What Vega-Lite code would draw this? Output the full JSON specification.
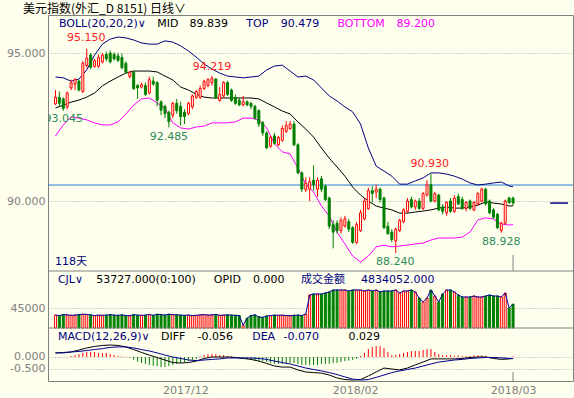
{
"$schema":"https://vega.github.io/schema/vega-lite/v6.json",
"autosize":"none",
"width":525,"height":366,
"padding":{"left":48,"top":15,"right":1,"bottom":17},
"background":"#FFFFEE",
"config":{"view":{"stroke":"#808080","fill":"#FFFFEE"},"axis":{"labelFont":"DejaVu Sans","labelFontSize":11,"labelColor":"#808080","gridColor":"#A8A8A8","gridDash":[1,2],"gridWidth":1}},
"title":{"text":"美元指数(外汇_D 8151)    日线∨","anchor":"start","frame":"group","dx":-25,"dy":3,"offset":2,"font":"Noto Sans CJK SC","fontSize":12,"fontWeight":"normal","color":"#000000"},
"resolve":{"scale":{"y":"independent"},"axis":{"y":"independent"}},
"datasets":{
"bars":[
{"i":0,"o":93.28,"h":93.75,"l":93.24,"c":93.51,"v":29000,"k":-0.01},
{"i":1,"o":93.5,"h":93.7,"l":93.2,"c":93.3,"v":28000,"k":-0.01},
{"i":2,"o":93.45,"h":93.5,"l":93.045,"c":93.13,"v":30000,"k":0.0},
{"i":3,"o":93.18,"h":93.7,"l":93.1,"c":93.65,"v":29500,"k":0.01},
{"i":4,"o":93.82,"h":94.1,"l":93.75,"c":93.99,"v":28500,"k":0.04},
{"i":5,"o":93.95,"h":94.15,"l":93.75,"c":94.1,"v":29000,"k":0.08},
{"i":6,"o":94.05,"h":94.1,"l":93.7,"c":93.75,"v":30000,"k":0.12},
{"i":7,"o":93.7,"h":94.72,"l":93.65,"c":94.66,"v":31000,"k":0.17},
{"i":8,"o":94.58,"h":95.15,"l":94.5,"c":94.83,"v":30500,"k":0.21},
{"i":9,"o":94.93,"h":95.0,"l":94.45,"c":94.52,"v":29500,"k":0.21},
{"i":10,"o":94.55,"h":94.8,"l":94.5,"c":94.74,"v":28000,"k":0.21},
{"i":11,"o":94.55,"h":94.95,"l":94.5,"c":94.85,"v":29000,"k":0.17},
{"i":12,"o":94.7,"h":95.0,"l":94.65,"c":94.93,"v":28500,"k":0.17},
{"i":13,"o":94.95,"h":95.05,"l":94.72,"c":94.8,"v":29000,"k":0.17},
{"i":14,"o":95.0,"h":95.08,"l":94.65,"c":94.7,"v":30000,"k":0.12},
{"i":15,"o":94.95,"h":95.02,"l":94.75,"c":94.8,"v":29000,"k":0.08},
{"i":16,"o":94.9,"h":95.0,"l":94.7,"c":94.75,"v":28500,"k":0.04},
{"i":17,"o":94.85,"h":94.98,"l":94.45,"c":94.5,"v":29500,"k":0.03},
{"i":18,"o":94.65,"h":94.72,"l":94.3,"c":94.35,"v":28000,"k":0.01},
{"i":19,"o":94.2,"h":94.4,"l":94.15,"c":94.35,"v":27500,"k":-0.03},
{"i":20,"o":94.35,"h":94.4,"l":93.75,"c":93.8,"v":30000,"k":-0.12},
{"i":21,"o":93.9,"h":93.95,"l":93.45,"c":93.82,"v":29000,"k":-0.2},
{"i":22,"o":93.85,"h":94.0,"l":93.8,"c":93.93,"v":28500,"k":-0.25},
{"i":23,"o":93.9,"h":94.0,"l":93.55,"c":93.6,"v":29000,"k":-0.29},
{"i":24,"o":93.65,"h":94.2,"l":93.6,"c":94.1,"v":30500,"k":-0.33},
{"i":25,"o":94.05,"h":94.2,"l":93.9,"c":93.95,"v":28500,"k":-0.37},
{"i":26,"o":94.0,"h":94.05,"l":93.2,"c":93.4,"v":31000,"k":-0.38},
{"i":27,"o":93.35,"h":93.4,"l":92.9,"c":93.07,"v":30000,"k":-0.42},
{"i":28,"o":93.2,"h":93.25,"l":92.8,"c":92.95,"v":29000,"k":-0.42},
{"i":29,"o":93.0,"h":93.05,"l":92.485,"c":92.68,"v":31000,"k":-0.38},
{"i":30,"o":92.9,"h":93.35,"l":92.8,"c":93.3,"v":30000,"k":-0.33},
{"i":31,"o":93.3,"h":93.45,"l":92.95,"c":93.05,"v":29500,"k":-0.29},
{"i":32,"o":93.2,"h":93.35,"l":92.55,"c":92.85,"v":29000,"k":-0.25},
{"i":33,"o":93.0,"h":93.1,"l":92.6,"c":92.85,"v":28500,"k":-0.21},
{"i":34,"o":92.95,"h":93.35,"l":92.9,"c":93.3,"v":29000,"k":-0.17},
{"i":35,"o":93.18,"h":93.6,"l":93.1,"c":93.55,"v":28000,"k":-0.12},
{"i":36,"o":93.5,"h":93.75,"l":93.45,"c":93.7,"v":28500,"k":-0.08},
{"i":37,"o":93.5,"h":93.9,"l":93.45,"c":93.8,"v":29500,"k":0.03},
{"i":38,"o":93.8,"h":94.1,"l":93.75,"c":94.05,"v":30000,"k":0.08},
{"i":39,"o":93.9,"h":94.15,"l":93.85,"c":94.1,"v":29000,"k":0.12},
{"i":40,"o":94.0,"h":94.219,"l":93.9,"c":94.15,"v":29500,"k":0.12},
{"i":41,"o":94.12,"h":94.15,"l":93.45,"c":93.5,"v":30500,"k":0.12},
{"i":42,"o":93.4,"h":93.85,"l":93.35,"c":93.6,"v":28500,"k":0.08},
{"i":43,"o":93.55,"h":94.05,"l":93.5,"c":94.0,"v":29000,"k":0.08},
{"i":44,"o":94.0,"h":94.05,"l":93.55,"c":93.6,"v":29500,"k":0.04},
{"i":45,"o":93.75,"h":93.8,"l":93.35,"c":93.4,"v":29000,"k":0.03},
{"i":46,"o":93.5,"h":93.6,"l":93.25,"c":93.3,"v":28500,"k":0.01},
{"i":47,"o":93.4,"h":93.5,"l":93.2,"c":93.25,"v":28000,"k":-0.03},
{"i":48,"o":93.25,"h":93.55,"l":93.2,"c":93.35,"v":6000,"k":-0.04},
{"i":49,"o":93.35,"h":93.4,"l":93.2,"c":93.25,"v":22000,"k":-0.08},
{"i":50,"o":93.3,"h":93.35,"l":93.1,"c":93.2,"v":28000,"k":-0.12},
{"i":51,"o":93.2,"h":93.25,"l":92.75,"c":92.8,"v":29500,"k":-0.15},
{"i":52,"o":93.05,"h":93.1,"l":92.5,"c":92.6,"v":25000,"k":-0.17},
{"i":53,"o":92.65,"h":92.7,"l":92.2,"c":92.3,"v":24000,"k":-0.17},
{"i":54,"o":92.3,"h":92.35,"l":91.75,"c":91.8,"v":27000,"k":-0.21},
{"i":55,"o":91.85,"h":92.2,"l":91.8,"c":92.15,"v":28000,"k":-0.25},
{"i":56,"o":92.2,"h":92.3,"l":91.9,"c":91.95,"v":29000,"k":-0.29},
{"i":57,"o":91.9,"h":92.2,"l":91.85,"c":92.15,"v":28500,"k":-0.29},
{"i":58,"o":92.05,"h":92.55,"l":92.0,"c":92.45,"v":29000,"k":-0.29},
{"i":59,"o":92.35,"h":92.7,"l":92.3,"c":92.55,"v":28000,"k":-0.29},
{"i":60,"o":92.45,"h":92.7,"l":92.4,"c":92.6,"v":27500,"k":-0.25},
{"i":61,"o":92.6,"h":92.7,"l":91.85,"c":91.9,"v":28500,"k":-0.25},
{"i":62,"o":91.9,"h":91.95,"l":90.9,"c":90.95,"v":29000,"k":-0.29},
{"i":63,"o":90.95,"h":91.0,"l":90.3,"c":90.4,"v":28000,"k":-0.33},
{"i":64,"o":90.38,"h":90.8,"l":90.3,"c":90.6,"v":31500,"k":-0.33},
{"i":65,"o":90.4,"h":90.8,"l":90.0,"c":90.65,"v":74250,"k":-0.33},
{"i":66,"o":90.7,"h":91.2,"l":90.35,"c":90.55,"v":76500,"k":-0.33},
{"i":67,"o":90.4,"h":90.8,"l":90.15,"c":90.7,"v":76500,"k":-0.33},
{"i":68,"o":90.75,"h":90.85,"l":90.3,"c":90.4,"v":76500,"k":-0.29},
{"i":69,"o":90.5,"h":90.55,"l":90.0,"c":90.05,"v":78750,"k":-0.29},
{"i":70,"o":90.1,"h":90.15,"l":89.05,"c":89.15,"v":81000,"k":-0.29},
{"i":71,"o":89.2,"h":89.35,"l":88.4,"c":88.95,"v":85500,"k":-0.25},
{"i":72,"o":89.25,"h":89.35,"l":88.9,"c":89.0,"v":85500,"k":-0.25},
{"i":73,"o":89.0,"h":89.45,"l":88.9,"c":89.35,"v":85500,"k":-0.21},
{"i":74,"o":89.15,"h":89.5,"l":89.1,"c":89.4,"v":85500,"k":-0.17},
{"i":75,"o":89.3,"h":89.4,"l":88.95,"c":89.05,"v":83250,"k":-0.15},
{"i":76,"o":89.1,"h":89.15,"l":88.55,"c":88.6,"v":85500,"k":-0.12},
{"i":77,"o":88.6,"h":89.3,"l":88.55,"c":89.2,"v":85500,"k":-0.08},
{"i":78,"o":89.0,"h":89.7,"l":88.95,"c":89.6,"v":85500,"k":0.04},
{"i":79,"o":89.4,"h":90.1,"l":89.35,"c":90.0,"v":83250,"k":0.17},
{"i":80,"o":89.75,"h":90.45,"l":89.7,"c":90.35,"v":85500,"k":0.33},
{"i":81,"o":90.35,"h":90.5,"l":89.95,"c":90.25,"v":83250,"k":0.42},
{"i":82,"o":90.3,"h":90.55,"l":90.1,"c":90.4,"v":85500,"k":0.46},
{"i":83,"o":90.4,"h":90.45,"l":89.95,"c":90.05,"v":81000,"k":0.46},
{"i":84,"o":90.1,"h":90.15,"l":89.05,"c":89.1,"v":83250,"k":0.37},
{"i":85,"o":89.15,"h":89.3,"l":88.85,"c":88.9,"v":83250,"k":0.21},
{"i":86,"o":88.95,"h":89.05,"l":88.6,"c":88.7,"v":83250,"k":0.08},
{"i":87,"o":88.65,"h":89.1,"l":88.24,"c":89.05,"v":85500,"k":0.08},
{"i":88,"o":89.0,"h":89.4,"l":88.95,"c":89.35,"v":78750,"k":0.12},
{"i":89,"o":89.3,"h":89.75,"l":89.25,"c":89.7,"v":83250,"k":0.17},
{"i":90,"o":89.65,"h":90.1,"l":89.6,"c":90.0,"v":83250,"k":0.21},
{"i":91,"o":90.05,"h":90.15,"l":89.75,"c":89.8,"v":85500,"k":0.25},
{"i":92,"o":89.8,"h":90.05,"l":89.7,"c":90.0,"v":81000,"k":0.25},
{"i":93,"o":90.0,"h":90.1,"l":89.7,"c":89.75,"v":67500,"k":0.25},
{"i":94,"o":89.75,"h":90.3,"l":89.7,"c":90.25,"v":58500,"k":0.29},
{"i":95,"o":90.2,"h":90.7,"l":90.15,"c":90.55,"v":67500,"k":0.33},
{"i":96,"o":90.55,"h":90.93,"l":89.95,"c":90.0,"v":85500,"k":0.33},
{"i":97,"o":90.0,"h":90.3,"l":89.95,"c":90.25,"v":72000,"k":0.21},
{"i":98,"o":90.2,"h":90.25,"l":89.65,"c":89.7,"v":58500,"k":0.12},
{"i":99,"o":89.8,"h":89.9,"l":89.55,"c":89.65,"v":76500,"k":0.08},
{"i":100,"o":89.6,"h":90.0,"l":89.5,"c":89.95,"v":85500,"k":0.08},
{"i":101,"o":90.0,"h":90.1,"l":89.6,"c":89.65,"v":85500,"k":0.08},
{"i":102,"o":89.65,"h":90.2,"l":89.6,"c":90.1,"v":81000,"k":0.05},
{"i":103,"o":90.15,"h":90.25,"l":89.85,"c":89.9,"v":74250,"k":0.07},
{"i":104,"o":90.05,"h":90.15,"l":89.7,"c":89.75,"v":69750,"k":0.04},
{"i":105,"o":89.75,"h":90.0,"l":89.65,"c":89.95,"v":69750,"k":0.04},
{"i":106,"o":90.0,"h":90.05,"l":89.7,"c":89.75,"v":69750,"k":0.05},
{"i":107,"o":89.7,"h":90.0,"l":89.65,"c":89.95,"v":72000,"k":0.07},
{"i":108,"o":89.9,"h":90.3,"l":89.85,"c":90.25,"v":69750,"k":0.08},
{"i":109,"o":90.0,"h":90.45,"l":89.95,"c":90.4,"v":69750,"k":0.07},
{"i":110,"o":90.4,"h":90.45,"l":89.85,"c":89.9,"v":72000,"k":0.05},
{"i":111,"o":90.0,"h":90.05,"l":89.55,"c":89.6,"v":74250,"k":0.01},
{"i":112,"o":89.7,"h":89.75,"l":89.4,"c":89.45,"v":72000,"k":-0.03},
{"i":113,"o":89.55,"h":89.6,"l":89.05,"c":89.1,"v":72000,"k":-0.04},
{"i":114,"o":89.0,"h":89.3,"l":88.928,"c":89.25,"v":69750,"k":-0.04},
{"i":115,"o":89.25,"h":90.05,"l":89.2,"c":90.0,"v":78750,"k":-0.03},
{"i":116,"o":90.1,"h":90.15,"l":89.9,"c":89.95,"v":45000,"k":0.01},
{"i":117,"o":90.1,"h":90.15,"l":89.85,"c":89.93,"v":53727,"k":0.029}
],
"lines":[
{"i":0,"t":94.19,"m":93.14,"b":92.2,"d":0.17,"e":0.17},
{"i":2,"t":94.16,"m":93.24,"b":92.57,"d":0.17,"e":0.19},
{"i":4,"t":94.05,"m":93.34,"b":92.84,"d":0.21,"e":0.21},
{"i":6,"t":94.12,"m":93.41,"b":92.8,"d":0.29,"e":0.23},
{"i":8,"t":94.43,"m":93.51,"b":92.74,"d":0.375,"e":0.27},
{"i":10,"t":94.93,"m":93.65,"b":92.64,"d":0.44,"e":0.31},
{"i":12,"t":95.3,"m":93.89,"b":92.57,"d":0.48,"e":0.35},
{"i":14,"t":95.47,"m":94.05,"b":92.57,"d":0.5,"e":0.4},
{"i":16,"t":95.54,"m":94.19,"b":92.67,"d":0.48,"e":0.42},
{"i":18,"t":95.51,"m":94.32,"b":92.94,"d":0.42,"e":0.42},
{"i":20,"t":95.44,"m":94.39,"b":93.24,"d":0.31,"e":0.375},
{"i":22,"t":95.34,"m":94.39,"b":93.45,"d":0.19,"e":0.31},
{"i":24,"t":95.3,"m":94.39,"b":93.48,"d":0.08,"e":0.25},
{"i":26,"t":95.3,"m":94.36,"b":93.31,"d":-0.02,"e":0.17},
{"i":28,"t":95.41,"m":94.22,"b":93.14,"d":-0.125,"e":0.08},
{"i":30,"t":95.37,"m":94.09,"b":92.64,"d":-0.23,"e":0.0},
{"i":32,"t":95.24,"m":93.85,"b":92.47,"d":-0.25,"e":-0.06},
{"i":34,"t":95.07,"m":93.75,"b":92.43,"d":-0.23,"e":-0.125},
{"i":36,"t":94.86,"m":93.61,"b":92.5,"d":-0.17,"e":-0.15},
{"i":38,"t":94.63,"m":93.51,"b":92.53,"d":-0.06,"e":-0.125},
{"i":40,"t":94.46,"m":93.48,"b":92.64,"d":0.0,"e":-0.1},
{"i":42,"t":94.32,"m":93.48,"b":92.64,"d":0.0,"e":-0.08},
{"i":44,"t":94.22,"m":93.48,"b":92.64,"d":0.0,"e":-0.04},
{"i":46,"t":94.19,"m":93.48,"b":92.67,"d":-0.02,"e":-0.04},
{"i":48,"t":94.16,"m":93.48,"b":92.8,"d":-0.06,"e":-0.04},
{"i":50,"t":94.19,"m":93.48,"b":92.8,"d":-0.1,"e":-0.04},
{"i":52,"t":94.22,"m":93.45,"b":92.74,"d":-0.17,"e":-0.06},
{"i":54,"t":94.43,"m":93.31,"b":92.47,"d":-0.27,"e":-0.1},
{"i":56,"t":94.56,"m":93.18,"b":91.93,"d":-0.375,"e":-0.17},
{"i":58,"t":94.59,"m":93.04,"b":91.66,"d":-0.42,"e":-0.23},
{"i":60,"t":94.39,"m":92.94,"b":91.59,"d":-0.42,"e":-0.29},
{"i":62,"t":94.19,"m":92.67,"b":91.11,"d":-0.54,"e":-0.375},
{"i":64,"t":94.22,"m":92.43,"b":90.57,"d":-0.625,"e":-0.46},
{"i":66,"t":94.09,"m":92.16,"b":90.3,"d":-0.65,"e":-0.52},
{"i":68,"t":93.82,"m":91.79,"b":89.83,"d":-0.67,"e":-0.58},
{"i":70,"t":93.55,"m":91.45,"b":89.49,"d":-0.75,"e":-0.65},
{"i":72,"t":93.38,"m":91.15,"b":88.95,"d":-0.875,"e":-0.73},
{"i":74,"t":93.18,"m":90.84,"b":88.55,"d":-0.94,"e":-0.83},
{"i":76,"t":93.01,"m":90.47,"b":88.14,"d":-0.96,"e":-0.92},
{"i":78,"t":92.6,"m":90.2,"b":87.94,"d":-0.94,"e":-0.96},
{"i":80,"t":91.79,"m":90.0,"b":88.14,"d":-0.79,"e":-0.94},
{"i":82,"t":91.18,"m":89.83,"b":88.45,"d":-0.625,"e":-0.85},
{"i":84,"t":91.01,"m":89.76,"b":88.51,"d":-0.46,"e":-0.75},
{"i":86,"t":90.84,"m":89.7,"b":88.45,"d":-0.5,"e":-0.65},
{"i":88,"t":90.57,"m":89.59,"b":88.48,"d":-0.54,"e":-0.58},
{"i":90,"t":90.57,"m":89.59,"b":88.51,"d":-0.46,"e":-0.52},
{"i":92,"t":90.68,"m":89.63,"b":88.55,"d":-0.33,"e":-0.46},
{"i":94,"t":90.78,"m":89.66,"b":88.58,"d":-0.21,"e":-0.375},
{"i":96,"t":90.95,"m":89.7,"b":88.68,"d":-0.08,"e":-0.29},
{"i":98,"t":90.95,"m":89.76,"b":88.75,"d":-0.08,"e":-0.21},
{"i":100,"t":90.91,"m":89.8,"b":88.75,"d":-0.08,"e":-0.17},
{"i":102,"t":90.84,"m":89.76,"b":88.75,"d":-0.08,"e":-0.125},
{"i":104,"t":90.74,"m":89.76,"b":88.78,"d":-0.06,"e":-0.1},
{"i":106,"t":90.61,"m":89.8,"b":88.95,"d":-0.02,"e":-0.06},
{"i":108,"t":90.54,"m":89.86,"b":89.36,"d":0.0,"e":-0.04},
{"i":110,"t":90.57,"m":89.97,"b":89.43,"d":0.0,"e":-0.02},
{"i":112,"t":90.61,"m":89.93,"b":89.39,"d":-0.06,"e":-0.02},
{"i":114,"t":90.64,"m":89.9,"b":89.22,"d":-0.1,"e":-0.04},
{"i":116,"t":90.51,"m":89.83,"b":89.19,"d":-0.08,"e":-0.06},
{"i":117,"t":90.479,"m":89.839,"b":89.2,"d":-0.056,"e":-0.07}
]
},
"layer":[
{"data":{"values":[{"p":90.54}]},"mark":{"type":"rule","color":"#1E7FD8","strokeWidth":1},
 "encoding":{"y":{"field":"p","type":"quantitative","scale":{"domain":[83.919,96.284],"nice":false,"zero":false},
  "axis":{"orient":"left","values":[95,90],"format":".3f","title":null,"grid":true,"domain":false,"ticks":false,"labelPadding":3}}}},
{"data":{"name":"bars"},"mark":{"type":"bar","orient":"vertical","width":2,"strokeWidth":1},
 "encoding":{"x":{"field":"i","type":"quantitative","scale":{"domain":[-0.63,131.05],"nice":false,"zero":false},
   "axis":{"orient":"bottom","values":[33.2,76.6,117],"labelExpr":"datum.value < 50 ? '2017/12' : (datum.value < 100 ? '2018/02' : '2018/03')","title":null,"domain":false,"ticks":false,"grid":false,"labelPadding":3}},
  "y":{"field":"v","type":"quantitative","scale":{"domain":[-119250,704250],"nice":false,"zero":false},
   "axis":{"orient":"left","values":[45000],"format":"d","title":null,"grid":true,"domain":false,"ticks":false,"labelPadding":3}},
  "y2":{"datum":0},
  "fill":{"condition":{"test":"datum.c>=datum.o","value":"#FFFFEE"},"value":"#008000"},
  "stroke":{"condition":{"test":"datum.c>=datum.o","value":"#FF0000"},"value":"#008000"}}},
{"data":{"name":"bars"},"mark":{"type":"rule","strokeWidth":1},
 "encoding":{"x":{"field":"i","type":"quantitative"},
  "y":{"field":"k","type":"quantitative","scale":{"domain":[-1.0,14.2497],"nice":false,"zero":false},
   "axis":{"orient":"left","values":[0,-0.5],"labelExpr":"datum.value < 0 ? '-0.500' : '0.000'","title":null,"grid":true,"domain":false,"ticks":false,"labelPadding":3}},
  "y2":{"datum":0},
  "color":{"condition":{"test":"datum.k>=0","value":"#FF0000"},"value":"#008000"}}},
{"data":{"name":"lines"},"mark":{"type":"line","color":"#000080","strokeWidth":1},
 "encoding":{"x":{"field":"i","type":"quantitative"},
  "y":{"field":"t","type":"quantitative","scale":{"domain":[83.919,96.284],"nice":false,"zero":false},"axis":null}}},
{"data":{"name":"lines"},"mark":{"type":"line","color":"#000000","strokeWidth":1},
 "encoding":{"x":{"field":"i","type":"quantitative"},"y":{"field":"m","type":"quantitative","scale":{"domain":[83.919,96.284],"nice":false,"zero":false},"axis":null}}},
{"data":{"name":"lines"},"mark":{"type":"line","color":"#FF00FF","strokeWidth":1},
 "encoding":{"x":{"field":"i","type":"quantitative"},"y":{"field":"b","type":"quantitative","scale":{"domain":[83.919,96.284],"nice":false,"zero":false},"axis":null}}},
{"data":{"name":"bars"},"mark":{"type":"rule","strokeWidth":1},
 "encoding":{"x":{"field":"i","type":"quantitative"},"y":{"field":"l","type":"quantitative","scale":{"domain":[83.919,96.284],"nice":false,"zero":false},"axis":null},"y2":{"field":"h"},
  "color":{"condition":{"test":"datum.c>=datum.o","value":"#FF0000"},"value":"#008000"}}},
{"data":{"name":"bars"},"mark":{"type":"bar","orient":"vertical","width":2,"strokeWidth":1},
 "encoding":{"x":{"field":"i","type":"quantitative"},"y":{"field":"o","type":"quantitative","scale":{"domain":[83.919,96.284],"nice":false,"zero":false},"axis":null},"y2":{"field":"c"},
  "fill":{"condition":{"test":"datum.c>=datum.o","value":"#FFFFEE"},"value":"#008000"},
  "stroke":{"condition":{"test":"datum.c>=datum.o","value":"#FF0000"},"value":"#008000"}}},
{"data":{"values":[{"i":126.5,"i2":131.05,"p":89.93}]},"mark":{"type":"rule","color":"#000080","strokeWidth":1.5},
 "encoding":{"x":{"field":"i","type":"quantitative"},"x2":{"field":"i2"},"y":{"field":"p","type":"quantitative","scale":{"domain":[83.919,96.284],"nice":false,"zero":false},"axis":null}}},
{"data":{"values":[{"i":117,"p":87.635,"p2":88.18}]},"mark":{"type":"rule","color":"#808080","strokeWidth":1},
 "encoding":{"x":{"field":"i","type":"quantitative"},"y":{"field":"p","type":"quantitative","scale":{"domain":[83.919,96.284],"nice":false,"zero":false},"axis":null},"y2":{"field":"p2"}}},
{"data":{"values":[
 {"i":7.9,"p":95.51,"s":"95.150","k":"high"},
 {"i":40.0,"p":94.53,"s":"94.219","k":"high"},
 {"i":29.0,"p":92.16,"s":"92.485","k":"low"},
 {"i":2.1,"p":92.77,"s":"93.045","k":"low"},
 {"i":95.7,"p":91.25,"s":"90.930","k":"high"},
 {"i":86.9,"p":87.94,"s":"88.240","k":"low"},
 {"i":114,"p":88.61,"s":"88.928","k":"low"}]},
 "mark":{"type":"text","font":"DejaVu Sans","fontSize":11,"align":"center","clip":true},
 "encoding":{"x":{"field":"i","type":"quantitative"},"y":{"field":"p","type":"quantitative","scale":{"domain":[83.919,96.284],"nice":false,"zero":false},"axis":null},"text":{"field":"s"},
  "color":{"field":"k","type":"nominal","scale":{"domain":["high","low","label","value","bottom"],"range":["#FF2020","#2E8B57","#000080","#000000","#FF00FF"]},"legend":null}}},
{"data":{"values":[
 {"i":0.88,"p":95.98,"s":"BOLL(20,20,2)∨","k":"label"},
 {"i":26.0,"p":95.98,"s":"MID","k":"value"},
 {"i":34.3,"p":95.98,"s":"89.839","k":"value"},
 {"i":48.8,"p":95.98,"s":"TOP","k":"label"},
 {"i":57.6,"p":95.98,"s":"90.479","k":"label"},
 {"i":72.1,"p":95.98,"s":"BOTTOM","k":"bottom"},
 {"i":87.2,"p":95.98,"s":"89.200","k":"bottom"},
 {"i":-0.1,"p":87.94,"s":"118天","k":"label"}]},
 "mark":{"type":"text","font":"DejaVu Sans, Noto Sans CJK SC","fontSize":11,"align":"left"},
 "encoding":{"x":{"field":"i","type":"quantitative"},"y":{"field":"p","type":"quantitative","scale":{"domain":[83.919,96.284],"nice":false,"zero":false},"axis":null},"text":{"field":"s"},
  "color":{"field":"k","type":"nominal","legend":null}}},
{"data":{"name":"bars"},"mark":{"type":"line","color":"#0000A0","strokeWidth":1},
 "encoding":{"x":{"field":"i","type":"quantitative"},"y":{"field":"v","type":"quantitative","scale":{"domain":[-119250,704250],"nice":false,"zero":false},"axis":null}}},
{"data":{"values":[{"p":128250}]},"mark":{"type":"rule","color":"#808080","strokeWidth":1},
 "encoding":{"y":{"field":"p","type":"quantitative","scale":{"domain":[-119250,704250],"nice":false,"zero":false},"axis":null}}},
{"data":{"values":[
 {"i":0.63,"p":108000,"s":"CJL∨","k":"label"},
 {"i":10.4,"p":108000,"s":"53727.000(0:100)","k":"value"},
 {"i":40.5,"p":108000,"s":"OPID","k":"value"},
 {"i":50.5,"p":108000,"s":"0.000","k":"value"},
 {"i":62.8,"p":108000,"s":"成交金额","k":"label"},
 {"i":78.1,"p":108000,"s":"4834052.000","k":"label"}]},
 "mark":{"type":"text","font":"DejaVu Sans, Noto Sans CJK SC","fontSize":11,"align":"left"},
 "encoding":{"x":{"field":"i","type":"quantitative"},"y":{"field":"p","type":"quantitative","scale":{"domain":[-119250,704250],"nice":false,"zero":false},"axis":null},"text":{"field":"s"},
  "color":{"field":"k","type":"nominal","legend":null}}},
{"data":{"name":"lines"},"mark":{"type":"line","color":"#000000","strokeWidth":1},
 "encoding":{"x":{"field":"i","type":"quantitative"},"y":{"field":"d","type":"quantitative","scale":{"domain":[-1.0,14.2497],"nice":false,"zero":false},"axis":null}}},
{"data":{"name":"lines"},"mark":{"type":"line","color":"#000090","strokeWidth":1},
 "encoding":{"x":{"field":"i","type":"quantitative"},"y":{"field":"e","type":"quantitative","scale":{"domain":[-1.0,14.2497],"nice":false,"zero":false},"axis":null}}},
{"data":{"values":[{"p":1.208}]},"mark":{"type":"rule","color":"#808080","strokeWidth":1},
 "encoding":{"y":{"field":"p","type":"quantitative","scale":{"domain":[-1.0,14.2497],"nice":false,"zero":false},"axis":null}}},
{"data":{"values":[{"i":117,"p":-1.0,"p2":-0.62}]},"mark":{"type":"rule","color":"#808080","strokeWidth":1},
 "encoding":{"x":{"field":"i","type":"quantitative"},"y":{"field":"p","type":"quantitative","scale":{"domain":[-1.0,14.2497],"nice":false,"zero":false},"axis":null},"y2":{"field":"p2"}}},
{"data":{"values":[
 {"i":0.63,"p":0.833,"s":"MACD(12,26,9)∨","k":"label"},
 {"i":27.0,"p":0.833,"s":"DIFF","k":"value"},
 {"i":36.3,"p":0.833,"s":"-0.056","k":"value"},
 {"i":50.3,"p":0.833,"s":"DEA","k":"label"},
 {"i":58.3,"p":0.833,"s":"-0.070","k":"label"},
 {"i":74.9,"p":0.833,"s":"0.029","k":"value"}]},
 "mark":{"type":"text","font":"DejaVu Sans","fontSize":11,"align":"left"},
 "encoding":{"x":{"field":"i","type":"quantitative"},"y":{"field":"p","type":"quantitative","scale":{"domain":[-1.0,14.2497],"nice":false,"zero":false},"axis":null},"text":{"field":"s"},
  "color":{"field":"k","type":"nominal","legend":null}}}
]
}
